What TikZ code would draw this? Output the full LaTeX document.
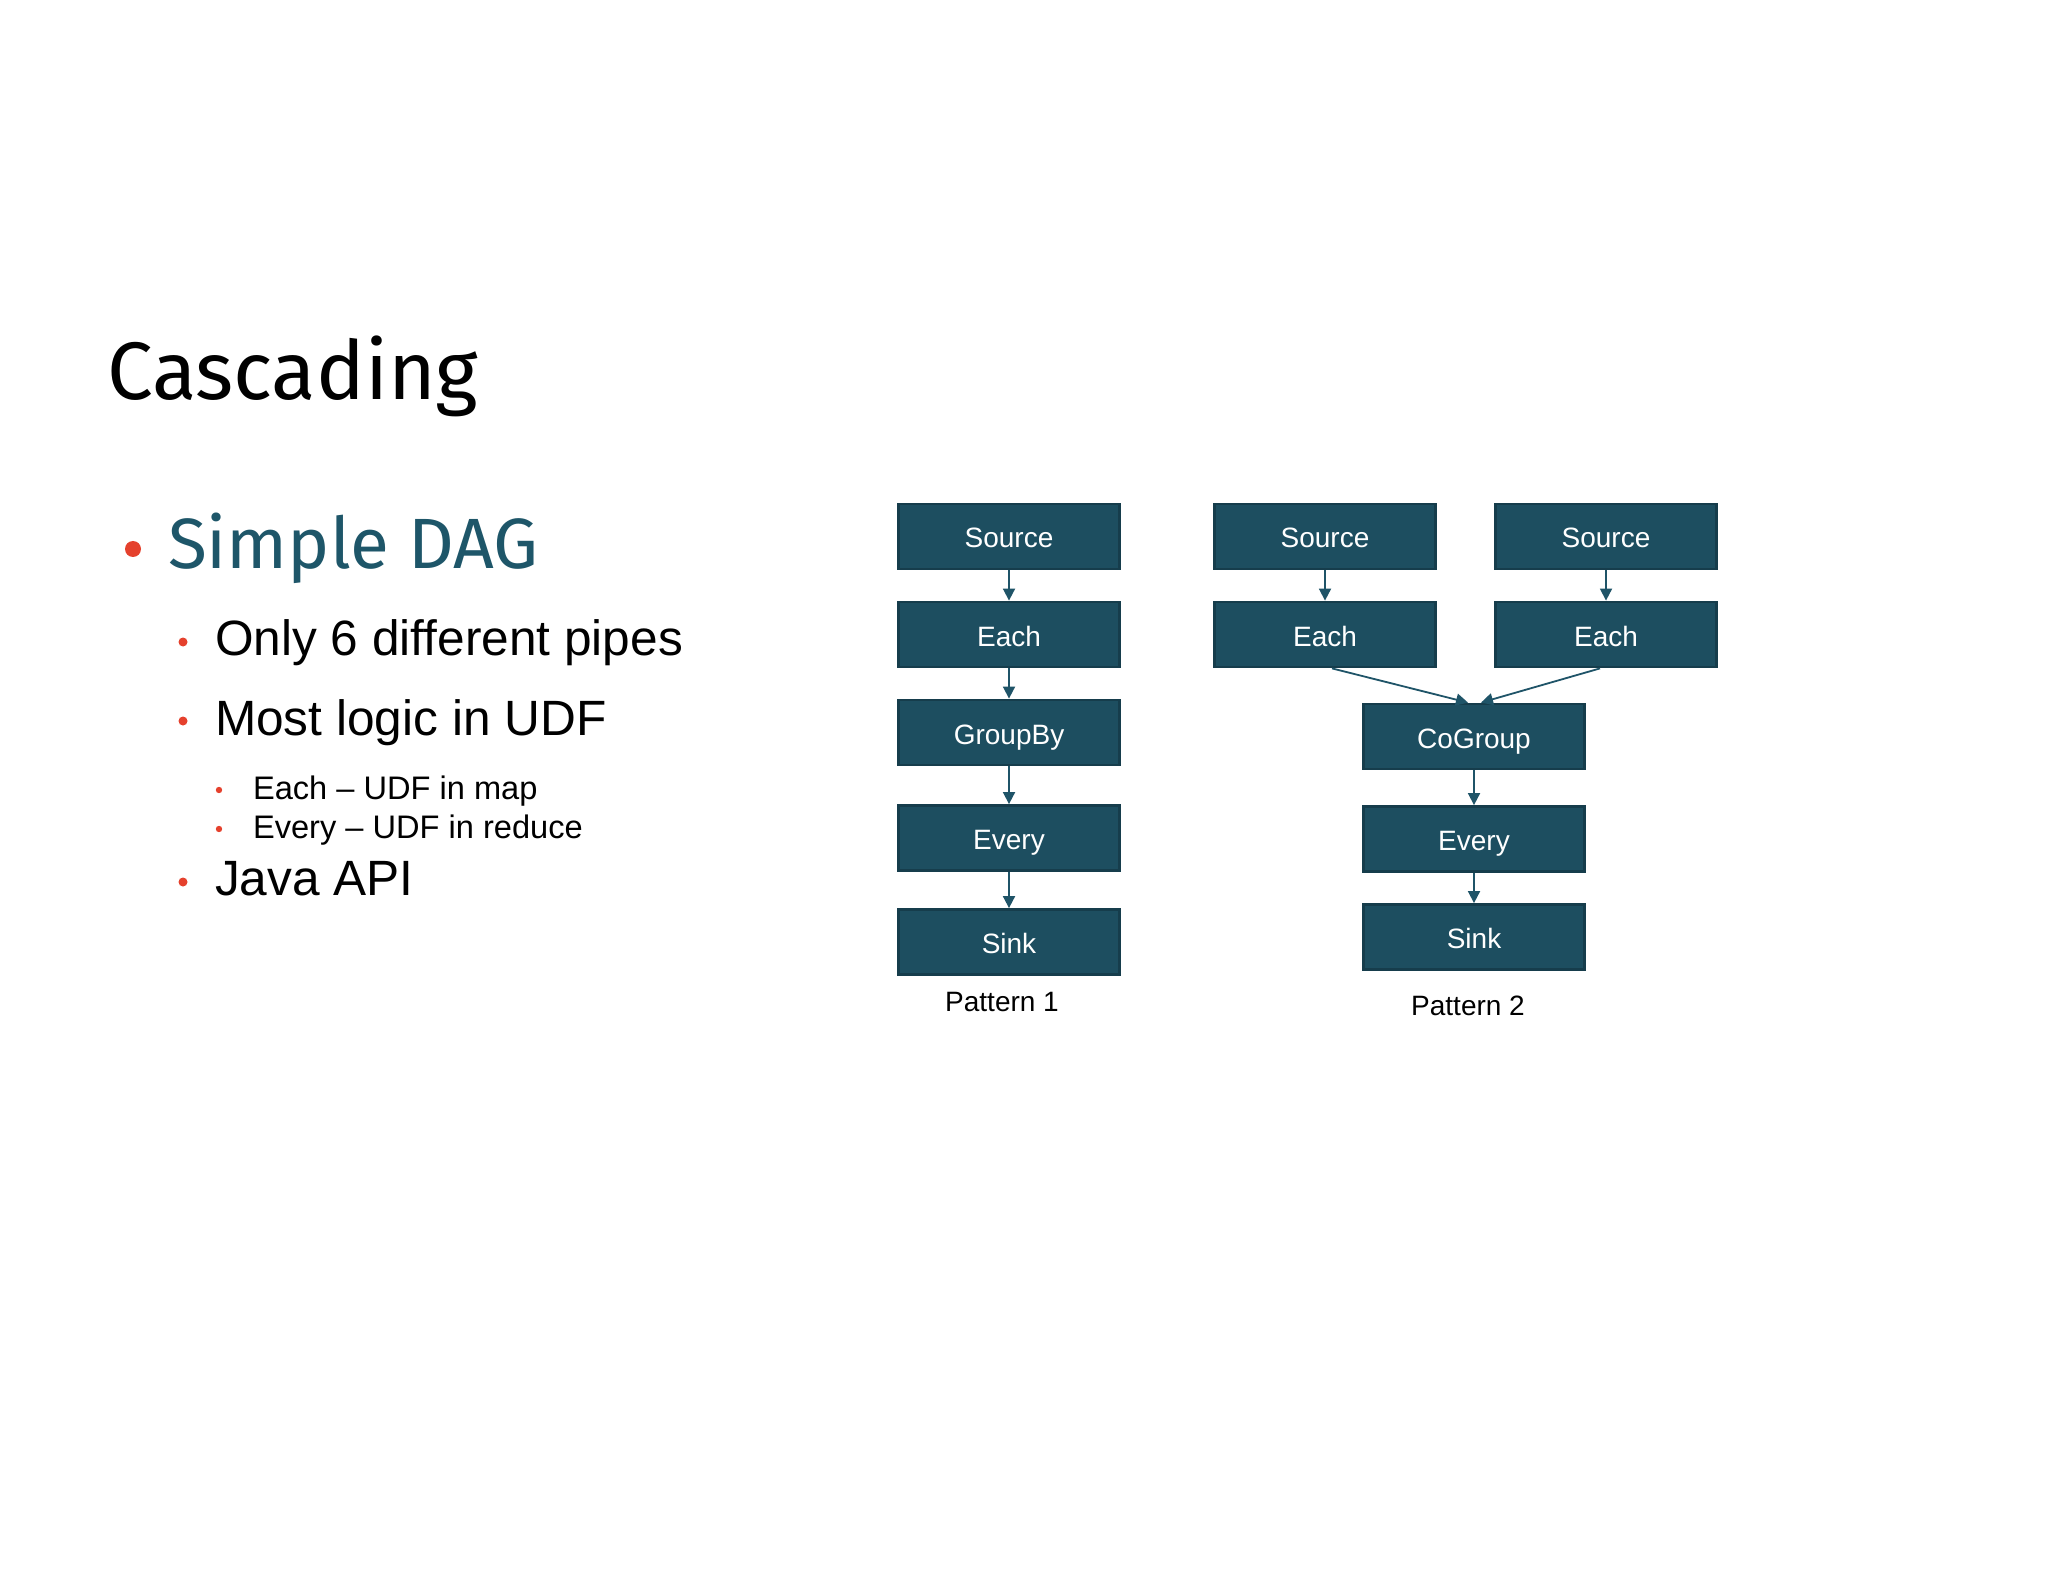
\documentclass[tikz,border=0pt]{standalone}
\usepackage{fontspec}
\usepackage{tikz}
\usetikzlibrary{arrows.meta}
\setmainfont{Liberation Sans}
\newfontfamily\headfont{Fira Sans}

\definecolor{pipefill}{HTML}{1D4E60}
\definecolor{pipeedge}{HTML}{163D4C}
\definecolor{flowcol}{HTML}{1F5468}
\definecolor{dagteal}{HTML}{1E5669}
\definecolor{dotred}{HTML}{E5412D}

\begin{document}
\begin{tikzpicture}[x=0.5pt,y=-0.5pt,
  pipe/.style={draw=pipeedge,line width=1.4pt,fill=pipefill,text=white,
    minimum width=110.5pt,minimum height=32.5pt,inner sep=0pt,
    text height=12pt,text depth=0.5pt,
    font=\fontsize{14pt}{17pt}\selectfont},
  flow/.style={draw=flowcol,line width=0.9pt,-{Triangle[width=6pt,length=6pt]}},
  caption/.style={anchor=base,font=\fontsize{14pt}{17pt}\selectfont},
  item/.style={anchor=base west,font=\fontsize{24.8pt}{29pt}\selectfont},
  subitem/.style={anchor=base west,font=\fontsize{16.3pt}{19pt}\selectfont}]
\useasboundingbox[fill=white] (0,0) rectangle (2048,1582);

% slide text
\node[anchor=base west,font=\headfont\fontsize{40.8pt}{48pt}\selectfont] (title) at (100,400) {Cascading};
\fill[dotred] (133,549) circle (8);
\node[anchor=base west,text=dagteal,font=\headfont\fontsize{35.6pt}{42pt}\selectfont] (dag) at (161,568) {Simple DAG};
\fill[dotred] (183,642) circle (4.5);
\node[item] (pipes) at (208,655) {Only 6 different pipes};
\fill[dotred] (183,721) circle (4.5);
\node[item] (udf) at (208,735) {Most logic in UDF};
\fill[dotred] (219,790) circle (3.2);
\node[subitem] (eachudf) at (246,799) {Each -- UDF in map};
\fill[dotred] (219,829) circle (3.2);
\node[subitem] (everyudf) at (246,838) {Every -- UDF in reduce};
\fill[dotred] (183,882) circle (4.5);
\node[item] (java) at (208,895) {Java API};

% pattern 1
\node[pipe] (srcA) at (1009,536.5) {Source};
\node[pipe] (eachA) at (1009,634.5) {Each};
\node[pipe] (groupA) at (1009,732.5) {GroupBy};
\node[pipe] (everyA) at (1009,838) {Every};
\node[pipe] (sinkA) at (1009,942) {Sink};
\node[caption] (capA) at (1002,1011) {Pattern 1};
\draw[flow] (srcA) -- (eachA);
\draw[flow] (eachA) -- (groupA);
\draw[flow] (groupA) -- (everyA);
\draw[flow] (everyA) -- (sinkA);

% pattern 2
\node[pipe] (srcL) at (1325,536.5) {Source};
\node[pipe] (srcR) at (1606,536.5) {Source};
\node[pipe] (eachL) at (1325,634.5) {Each};
\node[pipe] (eachR) at (1606,634.5) {Each};
\node[pipe] (cogroup) at (1474,736.5) {CoGroup};
\node[pipe] (everyB) at (1474,839) {Every};
\node[pipe] (sinkB) at (1474,937) {Sink};
\node[caption] (capB) at (1468,1015) {Pattern 2};
\draw[flow] (srcL) -- (eachL);
\draw[flow] (srcR) -- (eachR);
\draw[flow] ([xshift=3.5pt]eachL.south) -- ([xshift=-3pt]cogroup.north);
\draw[flow] ([xshift=-3pt]eachR.south) -- ([xshift=3.5pt]cogroup.north);
\draw[flow] (cogroup) -- (everyB);
\draw[flow] (everyB) -- (sinkB);
\end{tikzpicture}
\end{document}
